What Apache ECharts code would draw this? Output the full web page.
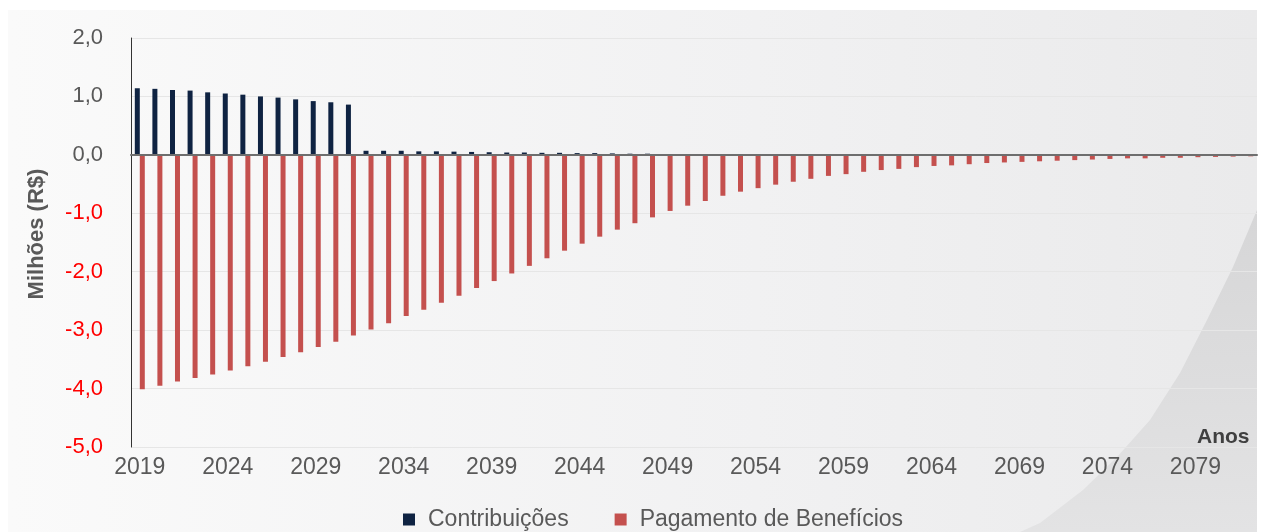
<!DOCTYPE html>
<html>
<head>
<meta charset="utf-8">
<script src="https://cdn.jsdelivr.net/npm/echarts@6/dist/echarts.min.js"></script>
<style>
  html, body { margin: 0; padding: 0; background: #fff; }
  #main { width: 1262px; height: 532px; }
</style>
</head>
<body>
<div id="main"></div>
<script>
const anos = [
  "2019", "2020", "2021", "2022", "2023", "2024", "2025", "2026", "2027", "2028",
  "2029", "2030", "2031", "2032", "2033", "2034", "2035", "2036", "2037", "2038",
  "2039", "2040", "2041", "2042", "2043", "2044", "2045", "2046", "2047", "2048",
  "2049", "2050", "2051", "2052", "2053", "2054", "2055", "2056", "2057", "2058",
  "2059", "2060", "2061", "2062", "2063", "2064", "2065", "2066", "2067", "2068",
  "2069", "2070", "2071", "2072", "2073", "2074", "2075", "2076", "2077", "2078",
  "2079", "2080", "2081", "2082"
];

const contribuicoes = [
  1.14, 1.13, 1.11, 1.10, 1.07, 1.05, 1.03, 1.00, 0.98, 0.95,
  0.92, 0.90, 0.86, 0.07, 0.07, 0.07, 0.06, 0.06, 0.055, 0.05,
  0.045, 0.04, 0.04, 0.035, 0.035, 0.03, 0.03, 0.025, 0.02, 0.02,
  0.015, 0.012, 0.01, 0.008, 0.006, 0.005, 0.004, 0.003, 0.002, 0,
  0, 0, 0, 0, 0, 0, 0, 0, 0, 0,
  0, 0, 0, 0, 0, 0, 0, 0, 0, 0,
  0, 0, 0, 0
];

const beneficios = [
  -4.01, -3.95, -3.88, -3.82, -3.76, -3.69, -3.62, -3.54, -3.46, -3.38,
  -3.29, -3.20, -3.09, -2.99, -2.88, -2.76, -2.65, -2.53, -2.41, -2.28,
  -2.16, -2.03, -1.90, -1.77, -1.64, -1.52, -1.40, -1.28, -1.17, -1.07,
  -0.96, -0.87, -0.79, -0.70, -0.63, -0.57, -0.51, -0.46, -0.41, -0.36,
  -0.33, -0.29, -0.26, -0.24, -0.21, -0.19, -0.18, -0.16, -0.14, -0.13,
  -0.12, -0.11, -0.10, -0.09, -0.08, -0.07, -0.06, -0.06, -0.05, -0.05,
  -0.04, -0.035, -0.03, -0.025
];

const fonte = "'Liberation Sans', Arial, sans-serif";
const cinza = "#595959";

const chart = echarts.init(document.getElementById("main"));

chart.setOption({
  animation: false,
  backgroundColor: "#ffffff",
  textStyle: { fontFamily: fonte },
  graphic: [
    {
      type: "rect",
      z: -10,
      shape: { x: 8, y: 10, width: 1249, height: 522 },
      style: {
        fill: new echarts.graphic.LinearGradient(0, 0, 1, 0, [
          { offset: 0, color: "#fafafa" },
          { offset: 0.6, color: "#f1f1f2" },
          { offset: 1, color: "#eaeaeb" }
        ])
      }
    },
    {
      // curva decorativa no canto inferior direito
      type: "polygon",
      z: -9,
      shape: {
        points: [
          [1020, 532], [1040, 523], [1083, 490], [1117, 457], [1150, 420],
          [1180, 373], [1207, 320], [1233, 267], [1257, 210], [1257, 532]
        ]
      },
      style: {
        fill: new echarts.graphic.LinearGradient(0, 0, 0, 1, [
          { offset: 0, color: "#d6d6d7" },
          { offset: 1, color: "#e3e3e4" }
        ])
      }
    },
    {
      type: "text",
      left: 1197,
      top: 427,
      style: {
        text: "Anos",
        font: "bold 21px " + fonte,
        fill: "#404040"
      }
    },
    {
      type: "text",
      x: 37,
      y: 234,
      rotation: Math.PI / 2,
      style: {
        text: "Milhões (R$)",
        font: "bold 22px " + fonte,
        fill: cinza,
        align: "center",
        verticalAlign: "middle"
      }
    }
  ],
  legend: {
    left: 403,
    top: 508,
    padding: 0,
    icon: "rect",
    itemWidth: 12,
    itemHeight: 12,
    itemGap: 46,
    textStyle: {
      fontSize: 23,
      color: cinza,
      fontFamily: fonte,
      padding: [0, 0, 0, 8]
    },
    data: ["Contribuições", "Pagamento de Benefícios"]
  },
  grid: { left: 131, right: 5, top: 38, bottom: 85, containLabel: false },
  xAxis: [
    {
      type: "category",
      data: anos,
      position: "bottom",
      axisLine: { show: false, onZero: false },
      axisTick: { show: false },
      axisLabel: {
        interval: 4,
        fontSize: 23,
        color: cinza,
        margin: 9,
        fontFamily: fonte
      },
      splitLine: { show: false }
    },
    {
      type: "category",
      data: anos,
      z: 5,
      axisLine: { show: true, onZero: true, lineStyle: { color: "#6e6e6e", width: 2 } },
      axisTick: { show: false },
      axisLabel: { show: false },
      splitLine: { show: false }
    }
  ],
  yAxis: {
    type: "value",
    min: -5,
    max: 2,
    interval: 1,
    axisLine: { show: true, lineStyle: { color: "#333333", width: 1 } },
    axisTick: { show: false },
    axisLabel: {
      fontSize: 22,
      margin: 28,
      fontFamily: fonte,
      formatter: (v) => v.toFixed(1).replace(".", ","),
      color: (v) => (Number(v) < 0 ? "#ff0000" : cinza)
    },
    splitLine: { lineStyle: { color: "#e6e6e6", width: 1 } }
  },
  series: [
    {
      name: "Contribuições",
      type: "bar",
      xAxisIndex: 0,
      barWidth: 5,
      barGap: "0%",
      itemStyle: { color: "#0f2342" },
      data: contribuicoes
    },
    {
      name: "Pagamento de Benefícios",
      type: "bar",
      xAxisIndex: 0,
      barWidth: 5,
      barGap: "0%",
      itemStyle: { color: "#c4504e" },
      data: beneficios
    }
  ]
});
</script>
</body>
</html>
